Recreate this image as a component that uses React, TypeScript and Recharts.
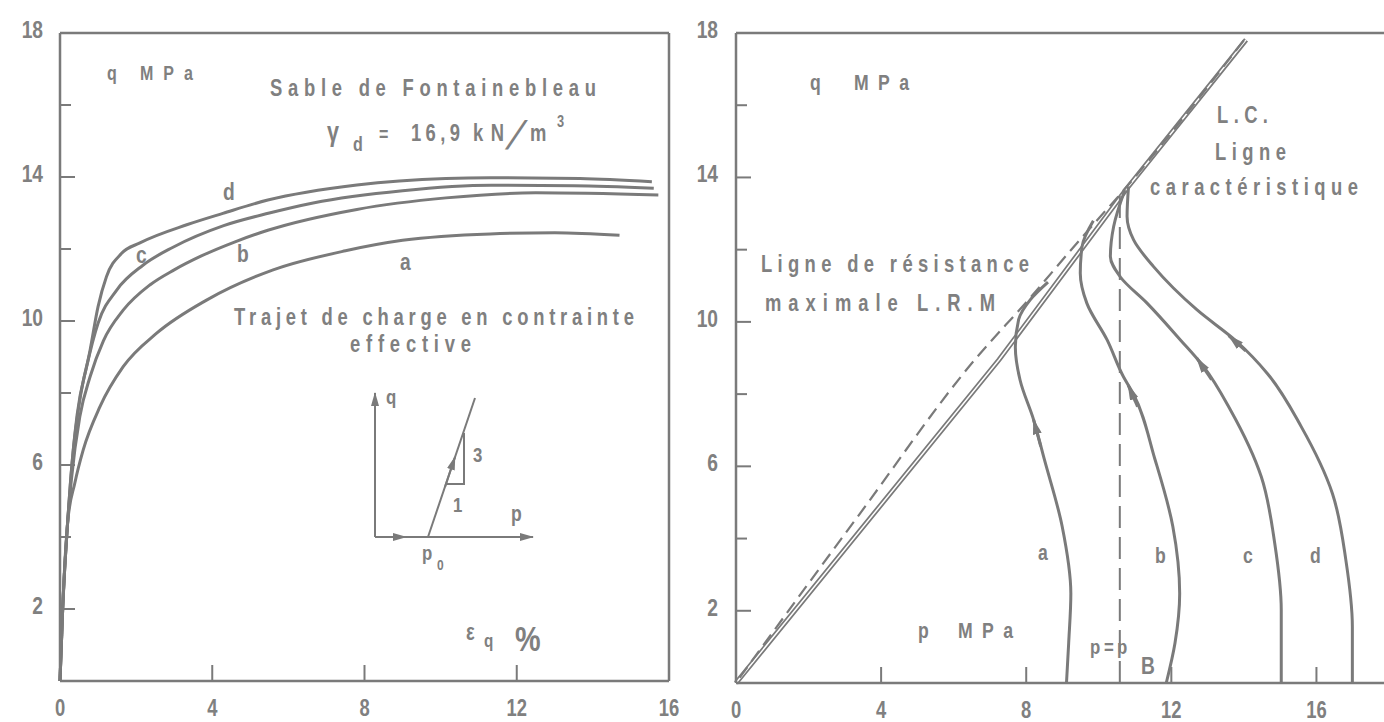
import React from 'react';
import { LineChart, Line, XAxis, YAxis } from 'recharts';

const INK = '#7a7a7a';
const TEXT = '#808080';
const FONT = "'Liberation Sans', Arial, sans-serif";
const NARROW = 0.8; // horizontal squeeze to imitate the condensed typeface

// shared q axis (MPa)
const Q_TICKS = [0, 2, 4, 6, 8, 10, 12, 14, 16, 18];
const Q_LABELS = [2, 6, 10, 14, 18];
// left panel: eps_q (%), right panel: p (MPa)
const EPS_TICKS = [0, 4, 8, 12, 16];
const P_TICKS = [0, 4, 8, 12, 16];

// left panel, q against eps_q for the four tests
const curveA = [[0, 0], [0.07, 2.0], [0.2, 4.4], [0.39, 5.5], [0.61, 6.42], [1.05, 7.62], [1.66, 8.73], [2.54, 9.66], [3.85, 10.58], [5.6, 11.42], [7.5, 11.95], [9.0, 12.24], [11.3, 12.42], [13.0, 12.45], [14.7, 12.38]];
const curveB = [[0, 0], [0.07, 2.0], [0.2, 4.4], [0.3, 5.6], [0.52, 7.34], [0.79, 8.45], [1.14, 9.45], [1.66, 10.3], [2.36, 11.0], [3.0, 11.42], [3.7, 11.8], [4.6, 12.2], [5.46, 12.52], [7.8, 13.1], [10.14, 13.42], [12.5, 13.56], [15.72, 13.5]];
const curveC = [[0, 0], [0.07, 2.0], [0.2, 4.4], [0.28, 5.6], [0.45, 7.4], [0.7, 8.73], [1.0, 9.94], [1.49, 10.86], [2.18, 11.55], [2.97, 12.05], [4.3, 12.65], [5.5, 13.0], [6.65, 13.28], [9.0, 13.62], [11.33, 13.77], [13.5, 13.76], [15.6, 13.69]];
const curveD = [[0, 0], [0.07, 2.0], [0.2, 4.4], [0.35, 6.42], [0.52, 7.8], [0.79, 9.19], [1.0, 10.4], [1.22, 11.23], [1.62, 11.88], [2.1, 12.17], [3.35, 12.68], [4.28, 12.99], [5.46, 13.36], [7.8, 13.78], [10.14, 13.96], [11.3, 13.98], [13.66, 13.96], [15.55, 13.87]];

// right panel, effective stress paths q against p (listed bottom to top)
const pathA = [[9.11, 0], [9.17, 1.1], [9.23, 2.48], [8.99, 4.34], [8.5, 6.19], [8.2, 7.3], [7.83, 8.39], [7.7, 9.3], [7.79, 10.06], [8.11, 10.61], [8.6, 11.1]];
const pathB = [[11.86, 0], [12.1, 1.1], [12.23, 2.48], [12.04, 4.34], [11.55, 6.19], [10.94, 8.03], [10.68, 8.48], [10.23, 9.5], [9.67, 10.52], [9.49, 11.35], [9.54, 12.09], [9.85, 12.8]];
const pathC = [[15.03, 0], [15.03, 2.02], [14.85, 3.87], [14.48, 5.71], [13.63, 7.56], [12.89, 8.76], [12.25, 9.5], [11.33, 10.52], [10.59, 11.25], [10.32, 11.81], [10.41, 12.64], [10.72, 13.65]];
const pathD = [[16.99, 0], [16.99, 1.56], [16.81, 3.41], [16.44, 5.25], [15.58, 7.1], [14.64, 8.58], [13.81, 9.45], [12.71, 10.33], [11.51, 11.53], [10.96, 12.27], [10.78, 12.92], [10.82, 13.75]];
const lineLC = [[0, 0], [7.25, 8.95], [10.78, 13.7], [14.06, 17.81]];
const lineLRM = [[0.1, 0.15], [3.35, 4.6], [6.58, 8.95], [8.05, 10.6], [9.5, 12.3], [10.75, 13.72], [14.0, 17.8]];
const linePB = [[10.58, 0], [10.58, 13.5]];
// arrowheads sit on the paths: [tail, tip]
const arrowA = [[8.4, 6.55], [8.2, 7.3]];
const arrowB = [[11.07, 7.65], [10.81, 8.25]];
const arrowC = [[13.11, 8.4], [12.7, 9.0]];
const arrowD = [[14.05, 9.2], [13.58, 9.62]];

const xy = (rows: number[][]) => rows.map(([x, y]) => ({ x, y }));

const txt = { fill: TEXT, fontFamily: FONT, fontWeight: 'bold' as const };

function Narrow({ x, y, size, anchor = 'start', w, children }: { x: number; y: number; size: number; anchor?: 'start' | 'middle' | 'end'; w?: number; children: React.ReactNode }) {
  return (
    <text transform={`translate(${x} ${y}) scale(${NARROW} 1)`} x={0} y={0} fontSize={size} textAnchor={anchor} {...txt}
      textLength={w ? w / NARROW : undefined} lengthAdjust={w ? 'spacing' : undefined}>
      {children}
    </text>
  );
}

// thin, steep slash as in "kN/m"
function Slash({ x, y, size }: { x: number; y: number; size: number }) {
  return (
    <text transform={`translate(${x} ${y}) skewX(-22)`} x={0} y={0} fontSize={size} fill={TEXT} fontFamily={FONT}>/</text>
  );
}

function leftTick(gap: number) {
  return (props: any) => {
    const { x, y, payload } = props;
    const v = payload.value as number;
    const labeled = Q_LABELS.includes(v);
    const edge = v === 0 || v === 18;
    return (
      <g>
        {!edge && <line x1={x} y1={y} x2={x + (labeled ? 15 : 11)} y2={y} stroke={INK} strokeWidth={2} />}
        {labeled && <Narrow x={x - gap} y={y + 5} size={24} anchor="end">{v}</Narrow>}
      </g>
    );
  };
}

const rightTick = (props: any) => {
  const { x, y, payload } = props;
  const v = payload.value as number;
  if (v === 0 || v === 18) return <g />;
  const len = Q_LABELS.includes(v) ? 15 : 11;
  return <line x1={x} y1={y} x2={x - len} y2={y} stroke={INK} strokeWidth={2} />;
};

function bottomTick(max: number) {
  return (props: any) => {
    const { x, y, payload } = props;
    const v = payload.value as number;
    const edge = v === 0 || v === max;
    return (
      <g>
        {!edge && <line x1={x} y1={y} x2={x} y2={y - 16} stroke={INK} strokeWidth={2} />}
        <Narrow x={x} y={y + 35} size={23} anchor="middle">{v}</Narrow>
      </g>
    );
  };
}

function topTick(max: number) {
  return (props: any) => {
    const { x, y, payload } = props;
    const v = payload.value as number;
    if (v === 0 || v === max) return <g />;
    return <line x1={x} y1={y} x2={x} y2={y + 16} stroke={INK} strokeWidth={2} />;
  };
}

const frame = { stroke: INK, strokeWidth: 2.5 };

function StrainPanel() {
  return (
    <LineChart width={689} height={722} margin={{ top: 0, right: 0, bottom: 0, left: 0 }}>
      <XAxis dataKey="x" type="number" domain={[0, 16]} ticks={EPS_TICKS} interval={0} height={41}
        tickSize={0} tickMargin={0} axisLine={frame} tickLine={false} tick={bottomTick(16)} />
      <XAxis xAxisId="top" orientation="top" type="number" domain={[0, 16]} ticks={EPS_TICKS} interval={0} height={33}
        tickSize={0} tickMargin={0} axisLine={frame} tickLine={false} tick={topTick(16)} />
      <YAxis type="number" domain={[0, 18]} ticks={Q_TICKS} interval={0} width={60}
        tickSize={0} tickMargin={0} axisLine={frame} tickLine={false} tick={leftTick(17)} />
      <YAxis yAxisId="right" orientation="right" type="number" domain={[0, 18]} ticks={Q_TICKS} interval={0} width={20}
        tickSize={0} tickMargin={0} axisLine={frame} tickLine={false} tick={rightTick} />
      {[curveA, curveB, curveC, curveD].map((c, i) => (
        <Line key={i} data={xy(c)} dataKey="y" type="monotone" stroke={INK} strokeWidth={3}
          dot={false} activeDot={false} isAnimationActive={false} />
      ))}
    </LineChart>
  );
}

function PathPanel() {
  return (
    <LineChart width={709} height={722} margin={{ top: 0, right: 0, bottom: 0, left: 0 }}>
      <defs>
        <marker id="pathArrow" viewBox="0 0 16 9" refX="15" refY="4.5" markerWidth="16" markerHeight="9"
          markerUnits="userSpaceOnUse" orient="auto">
          <path d="M0,0 L16,4.5 L0,9 z" fill={INK} />
        </marker>
      </defs>
      <XAxis dataKey="x" type="number" domain={[0, 18]} ticks={P_TICKS} interval={0} height={39}
        tickSize={0} tickMargin={0} axisLine={frame} tickLine={false} tick={bottomTick(18)} />
      <XAxis xAxisId="top" orientation="top" type="number" domain={[0, 18]} ticks={P_TICKS} interval={0} height={33}
        tickSize={0} tickMargin={0} axisLine={frame} tickLine={false} tick={topTick(18)} />
      <YAxis type="number" domain={[0, 18]} ticks={Q_TICKS} interval={0} width={46}
        tickSize={0} tickMargin={0} axisLine={frame} tickLine={false} tick={leftTick(18)} />
      <YAxis yAxisId="right" orientation="right" type="number" domain={[0, 18]} ticks={Q_TICKS} interval={0} width={10}
        tickSize={0} tickMargin={0} axisLine={frame} tickLine={false} tick={rightTick} />
      {/* L.C. drawn as a double line */}
      <Line data={xy(lineLC)} dataKey="y" type="linear" stroke={INK} strokeWidth={5}
        dot={false} activeDot={false} isAnimationActive={false} />
      <Line data={xy(lineLC)} dataKey="y" type="linear" stroke="#ffffff" strokeWidth={1.5}
        dot={false} activeDot={false} isAnimationActive={false} />
      <Line data={xy(lineLRM)} dataKey="y" type="monotone" stroke={INK} strokeWidth={2.2} strokeDasharray="13 7"
        dot={false} activeDot={false} isAnimationActive={false} />
      <Line data={xy(linePB)} dataKey="y" type="linear" stroke={INK} strokeWidth={2} strokeDasharray="22 9"
        dot={false} activeDot={false} isAnimationActive={false} />
      {[pathA, pathB, pathC, pathD].map((c, i) => (
        <Line key={'p' + i} data={xy(c)} dataKey="y" type="monotoneY" stroke={INK} strokeWidth={3}
          dot={false} activeDot={false} isAnimationActive={false} />
      ))}
      {[arrowA, arrowB, arrowC, arrowD].map((c, i) => (
        <Line key={'a' + i} data={xy(c)} dataKey="y" type="linear" stroke={INK} strokeWidth={3}
          markerEnd="url(#pathArrow)" dot={false} activeDot={false} isAnimationActive={false} />
      ))}
    </LineChart>
  );
}

function Notes() {
  return (
    <svg width={1384} height={722} style={{ position: 'absolute', left: 0, top: 0, pointerEvents: 'none' }}>
      <defs>
        <marker id="insetArrow" viewBox="0 0 14 8" refX="13" refY="4" markerWidth="14" markerHeight="8"
          markerUnits="userSpaceOnUse" orient="auto">
          <path d="M0,0 L14,4 L0,8 z" fill={INK} />
        </marker>
      </defs>

      {/* left panel */}
      <Narrow x={107} y={80} size={20}>q</Narrow>
      <Narrow x={140} y={80} size={20} w={53}>MPa</Narrow>
      <Narrow x={270} y={96} size={23} w={326}>Sable de Fontainebleau</Narrow>
      <Narrow x={327} y={141} size={27}>γ</Narrow>
      <Narrow x={353} y={151} size={20}>d</Narrow>
      <Narrow x={379} y={141} size={20}>=</Narrow>
      <Narrow x={411} y={141} size={23} w={49}>16,9</Narrow>
      <Narrow x={473} y={141} size={23} w={31}>kN</Narrow>
      <Slash x={505} y={149} size={40} />
      <Narrow x={530} y={141} size={23} w={23}>m</Narrow>
      <Narrow x={557} y={127} size={16}>3</Narrow>
      <Narrow x={234} y={325} size={23} w={400}>Trajet de charge en contrainte</Narrow>
      <Narrow x={350} y={352} size={23} w={121}>effective</Narrow>
      <Narrow x={223} y={200} size={24}>d</Narrow>
      <Narrow x={136} y={263} size={24}>c</Narrow>
      <Narrow x={237} y={262} size={24}>b</Narrow>
      <Narrow x={400} y={270} size={24}>a</Narrow>

      {/* inset: loading path in the p-q plane */}
      <g stroke={INK} strokeWidth={2} fill="none">
        <line x1={375} y1={537} x2={375} y2={393} markerEnd="url(#insetArrow)" />
        <line x1={375} y1={537} x2={533} y2={537} markerEnd="url(#insetArrow)" />
        <line x1={375} y1={537} x2={406} y2={537} markerEnd="url(#insetArrow)" />
        <line x1={428} y1={537} x2={475} y2={398} />
        <line x1={445} y1={487} x2={455} y2={457} markerEnd="url(#insetArrow)" />
        <polyline points="445,484 464,484 464,433" />
      </g>
      <Narrow x={386} y={404} size={21}>q</Narrow>
      <Narrow x={473} y={462} size={21}>3</Narrow>
      <Narrow x={453} y={512} size={21}>1</Narrow>
      <Narrow x={511} y={521} size={22}>p</Narrow>
      <Narrow x={422} y={560} size={21}>p</Narrow>
      <Narrow x={437} y={570} size={15}>0</Narrow>

      <Narrow x={466} y={640} size={23}>ε</Narrow>
      <Narrow x={484} y={647} size={19}>q</Narrow>
      <Narrow x={515} y={651} size={36}>%</Narrow>

      {/* right panel */}
      <Narrow x={810} y={90} size={22}>q</Narrow>
      <Narrow x={854} y={90} size={22} w={55}>MPa</Narrow>
      <Narrow x={1217} y={123} size={23} w={51}>L.C.</Narrow>
      <Narrow x={1215} y={160} size={23} w={71}>Ligne</Narrow>
      <Narrow x={1150} y={195} size={23} w={208}>caractéristique</Narrow>
      <Narrow x={761} y={272} size={23} w={268}>Ligne de résistance</Narrow>
      <Narrow x={765} y={311} size={23} w={230}>maximale L.R.M</Narrow>
      <Narrow x={1038} y={560} size={22}>a</Narrow>
      <Narrow x={1155} y={563} size={22}>b</Narrow>
      <Narrow x={1243} y={563} size={22}>c</Narrow>
      <Narrow x={1310} y={563} size={22}>d</Narrow>
      <Narrow x={918} y={638} size={22}>p</Narrow>
      <Narrow x={958} y={638} size={22} w={55}>MPa</Narrow>
      <Narrow x={1090} y={654} size={21}>p</Narrow>
      <Narrow x={1104} y={654} size={21}>=</Narrow>
      <Narrow x={1117} y={654} size={21}>p</Narrow>
      <Narrow x={1141} y={674} size={24}>B</Narrow>
    </svg>
  );
}

export default function App() {
  return (
    <div style={{ position: 'fixed', left: 0, top: 0, width: 1384, height: 722, overflow: 'hidden', background: '#fff' }}>
      <div style={{ position: 'absolute', left: 0, top: 0 }}>
        <StrainPanel />
      </div>
      <div style={{ position: 'absolute', left: 690, top: 0 }}>
        <PathPanel />
      </div>
      <Notes />
    </div>
  );
}
